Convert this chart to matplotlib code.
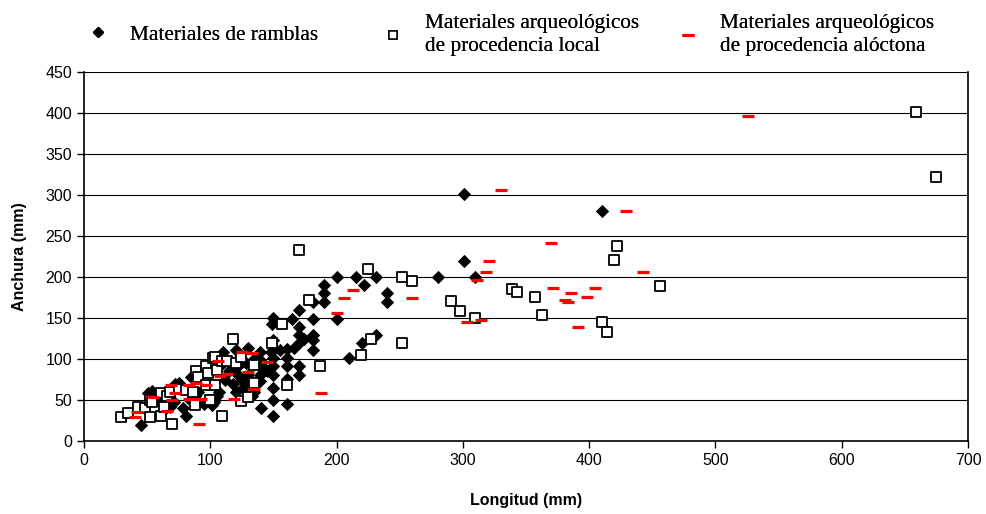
import matplotlib.pyplot as plt
from matplotlib.lines import Line2D

# Longitud / anchura (mm) de cada pieza
ramblas_x = [45, 51, 54, 55, 60, 62, 65, 68, 71, 72, 75, 76, 78, 81, 84, 85, 88, 90, 95, 101,
             103, 103, 105, 107, 110, 110, 110, 112, 115, 118, 120, 120, 121, 121, 122, 125, 126, 128, 130, 130,
             132, 133, 135, 135, 139, 139, 139, 139, 140, 142, 145, 148, 149, 150, 150, 150, 150, 150, 150, 150,
             150, 150, 155, 161, 161, 161, 161, 161, 165, 166, 170, 170, 170, 170, 170, 170, 174, 181, 181, 181,
             181, 181, 190, 190, 190, 200, 200, 210, 215, 220, 222, 231, 231, 240, 240, 280, 301, 301, 310, 410]
ramblas_y = [20, 58, 61, 55, 50, 45, 40, 42, 48, 70, 71, 65, 40, 30, 50, 78, 55, 60, 45, 44,
             48, 50, 55, 60, 109, 104, 95, 75, 85, 70, 111, 60, 90, 82, 100, 75, 65, 95, 114, 80,
             70, 55, 100, 60, 109, 99, 80, 73, 40, 90, 85, 109, 143, 150, 123, 111, 101, 91, 80, 65,
             50, 30, 111, 112, 101, 91, 76, 45, 149, 114, 160, 139, 129, 120, 91, 80, 124, 170, 149, 129,
             123, 111, 190, 180, 169, 200, 149, 101, 200, 119, 190, 200, 129, 180, 169, 200, 301, 220, 200, 280]

local_x = [29, 35, 43, 48, 52, 52, 54, 61, 61, 63, 66, 68, 70, 75, 81, 86, 88, 89, 90, 97,
           97, 98, 100, 102, 104, 104, 105, 109, 109, 113, 118, 120, 124, 124, 130, 135, 135, 149, 157, 161,
           170, 178, 187, 219, 225, 227, 252, 252, 260, 291, 298, 310, 339, 343, 357, 363, 410, 414, 420, 422,
           456, 659, 675]
local_y = [29, 34, 41, 40, 29, 50, 48, 58, 30, 42, 55, 60, 21, 64, 62, 60, 44, 85, 78, 68,
           91, 83, 50, 101, 68, 102, 87, 30, 97, 97, 125, 95, 49, 102, 54, 93, 71, 120, 143, 68,
           233, 172, 91, 105, 210, 125, 200, 120, 195, 171, 159, 150, 185, 182, 176, 154, 145, 133, 221, 238,
           189, 401, 322]

aloctona_x = [40, 42, 55, 66, 69, 70, 72, 83, 83, 89, 91, 93, 97, 106, 108, 113, 119, 125, 130, 133,
              135, 145, 188, 200, 206, 213, 260, 303, 311, 314, 318, 321, 330, 370, 371, 381, 383, 386, 391, 398,
              405, 429, 443, 526]
aloctona_y = [29, 35, 54, 36, 68, 50, 58, 51, 68, 71, 21, 51, 68, 97, 79, 82, 51, 108, 84, 107,
              63, 96, 59, 156, 175, 184, 174, 145, 196, 148, 206, 219, 306, 241, 187, 172, 169, 180, 139, 176,
              187, 280, 206, 396]

plt.rcParams['font.family'] = ['Liberation Sans', 'DejaVu Sans']

fig = plt.figure(figsize=(9.86, 5.14), dpi=100)
ax = fig.add_axes([84 / 986, 73 / 514, 884 / 986, 369 / 514])

ax.scatter(ramblas_x, ramblas_y, marker='D', s=46, color='black', linewidths=0, zorder=3)
ax.scatter(local_x, local_y, marker='s', s=42, facecolor='white', edgecolor='black', linewidths=1.3, zorder=4)
ax.scatter(aloctona_x, aloctona_y, marker='_', s=80, color='#ff0000', linewidths=2.3, zorder=5)

ax.set_xlim(0, 700)
ax.set_ylim(0, 450)
ax.set_xticks(range(0, 701, 100))
ax.set_yticks(range(0, 451, 50))
ax.yaxis.grid(True, color='black', linewidth=0.8)
ax.set_axisbelow(True)
ax.tick_params(direction='out', length=5, width=1, labelsize=11.5, colors='black')
for side in ['left', 'bottom', 'right']:
    ax.spines[side].set_linewidth(1.2)
ax.spines['top'].set_visible(False)

ax.set_xlabel('Longitud (mm)', fontsize=11.5, fontweight='bold', labelpad=18)
ax.set_ylabel('Anchura (mm)', fontsize=11.5, fontweight='bold', labelpad=13)

# leyenda: tres entradas colocadas por separado
entries = [
    (Line2D([], [], marker='D', color='black', linestyle='none', markersize=5.5), 'Materiales de ramblas', 0.0667),
    (Line2D([], [], marker='s', markerfacecolor='white', markeredgecolor='black', linestyle='none',
            markersize=5.5, markeredgewidth=1.1), 'Materiales arqueológicos\nde procedencia local', 0.3659),
    (Line2D([], [], marker='_', color='#ff0000', linestyle='none', markersize=9, markeredgewidth=2.2),
     'Materiales arqueológicos\nde procedencia alóctona', 0.6651),
]
for handle, label, xpos in entries:
    leg = fig.legend([handle], [label], loc='center left', bbox_to_anchor=(xpos, 0.932),
                     frameon=False, handlelength=1.2, handletextpad=0.9,
                     prop={'family': 'Liberation Serif', 'size': 15.3})
    for t in leg.get_texts():
        t.set_linespacing(1.25)
    fig.add_artist(leg)

fig.savefig('out.png', dpi=100)
